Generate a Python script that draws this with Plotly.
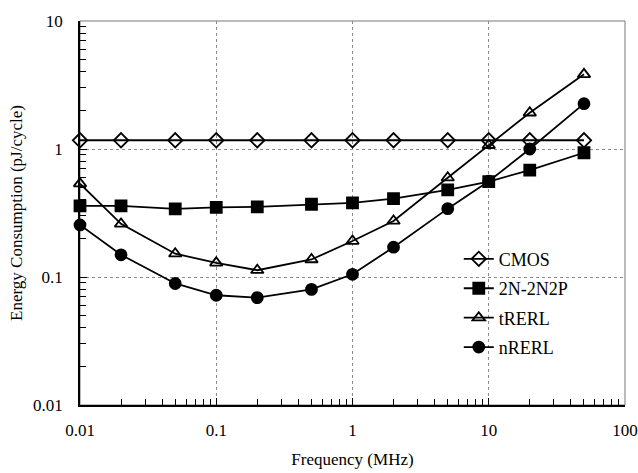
import plotly.graph_objects as go

freq = [0.01, 0.02, 0.05, 0.1, 0.2, 0.5, 1, 2, 5, 10, 20, 50]
cmos = [1.17, 1.17, 1.17, 1.17, 1.17, 1.17, 1.17, 1.17, 1.17, 1.17, 1.17, 1.17]
n2n2p = [0.36, 0.36, 0.34, 0.35, 0.353, 0.37, 0.38, 0.41, 0.48, 0.556, 0.685, 0.935]
trerl = [0.536, 0.26, 0.152, 0.129, 0.113, 0.137, 0.191, 0.274, 0.597, 1.07, 1.92, 3.83]
nrerl = [0.255, 0.149, 0.089, 0.072, 0.069, 0.080, 0.105, 0.171, 0.342, 0.56, 1.0, 2.26]

x_major = [0.01, 0.1, 1, 10, 100]
y_major = [0.01, 0.1, 1, 10]
x_minor = [m * 10 ** e for e in range(-2, 2) for m in range(2, 10)]
y_minor = [m * 10 ** e for e in range(-2, 1) for m in range(2, 10)]

series = [
    ("CMOS", cmos, "diamond-open", 11),
    ("2N-2N2P", n2n2p, "square", 11),
    ("tRERL", trerl, "triangle-up-open", 11),
    ("nRERL", nrerl, "circle", 11),
]

fig = go.Figure()
for i, (name, vals, sym, sz) in enumerate(series):
    fig.add_trace(go.Scatter(
        x=freq, y=vals, name=name, mode="lines+markers",
        line=dict(color="black", width=1.8),
        marker=dict(symbol=sym, size=sz, color="black",
                    line=dict(color="black", width=1.8)),
        legendgroup=str(i), cliponaxis=False,
    ))

font = "Liberation Serif, Times New Roman, serif"
axis_common = dict(
    type="log", showline=True, linecolor="black", linewidth=1.5,
    mirror=False, ticks="inside", ticklen=7, tickcolor="black", tickwidth=1,
    showgrid=True, gridcolor="#8a8a8a", gridwidth=1, griddash="dot",
    zeroline=False, automargin=False,
    tickfont=dict(family=font, size=17, color="black"),
)
fig.update_layout(
    xaxis=dict(range=[-2, 2], ticklabelstandoff=9, tickmode="array",
               tickvals=x_major, ticktext=[str(v) for v in x_major],
               minor=dict(tickmode="array", tickvals=x_minor, ticks="inside", ticklen=6,
                          tickcolor="black", tickwidth=1, showgrid=False),
               title=dict(text="Frequency (MHz)", font=dict(family=font, size=17, color="black"), standoff=14),
               **axis_common),
    yaxis=dict(range=[-2, 1], ticklabelstandoff=12, tickmode="array",
               tickvals=y_major, ticktext=[str(v) for v in y_major],
               minor=dict(tickmode="array", tickvals=y_minor, ticks="inside", ticklen=6,
                          tickcolor="black", tickwidth=1, showgrid=False),
               title=dict(text="Energy Consumption (pJ/cycle)", font=dict(family=font, size=17, color="black"), standoff=6),
               **axis_common),
)

# frame on top/right
fig.add_shape(type="rect", xref="paper", yref="paper", x0=0, y0=0, x1=1, y1=1,
              line=dict(color="#777777", width=1), layer="below")

fig.update_layout(
    width=638, height=473,
    margin=dict(l=80, r=13, t=21, b=68),
    plot_bgcolor="white", paper_bgcolor="white",
    font=dict(family=font, size=17, color="black"),
    showlegend=True,
    legend=dict(x=0.695, y=0.428, xanchor="left", yanchor="top",
                bgcolor="rgba(0,0,0,0)", tracegroupgap=3,
                font=dict(family=font, size=18, color="black")),
)

fig.write_html("out.html")
